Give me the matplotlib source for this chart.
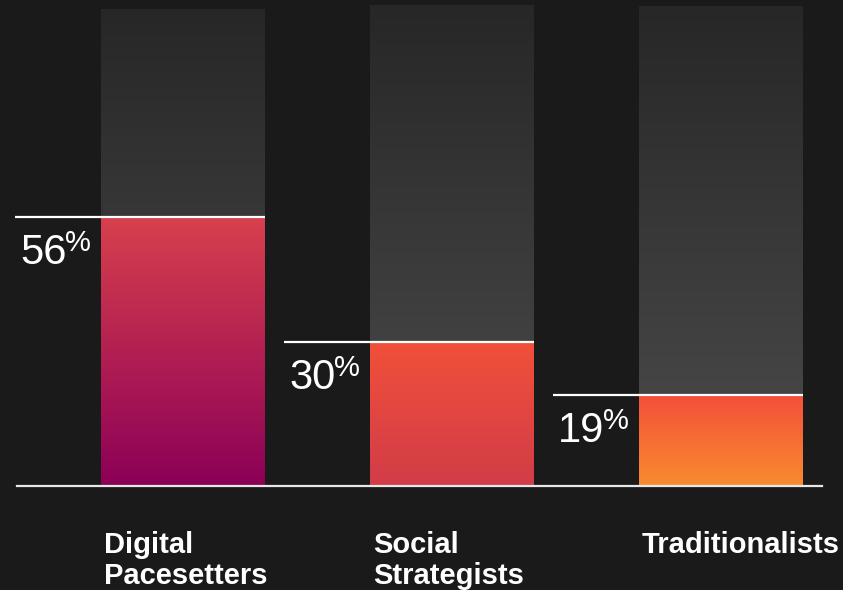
import numpy as np
import matplotlib
matplotlib.use("Agg")
import matplotlib.pyplot as plt
from matplotlib.colors import LinearSegmentedColormap

# data
categories = ["Digital\nPacesetters", "Social\nStrategists", "Traditionalists"]
values = [56, 30, 19]
full = [99.2, 100.2, 100]
# gradient colours (top, bottom) of each value bar
bar_colors = [("#d8404d", "#8c0057"), ("#f1503a", "#d23c48"), ("#f34f3a", "#f98b2f")]
bg_colors = ("#272727", "#4c4c4c")

W, H = 843, 590
fig = plt.figure(figsize=(W / 100, H / 100), dpi=100, facecolor="#1a1a1a")
ax = fig.add_axes([0, 0, 1, 1])
ax.set_facecolor("#1a1a1a")
ax.set_axis_off()

step = 269.0       # pixels between bar centres
x0px = 183.0       # first bar centre, pixels
ypx0 = 486.0       # baseline pixel
ppu = 4.8          # pixels per percent
ax.set_xlim(-x0px / step, (W - x0px) / step)
ax.set_ylim(-(H - ypx0) / ppu, ypx0 / ppu)

bw = 164 / step
grad = np.linspace(0, 1, 256).reshape(-1, 1)

for i, (v, f) in enumerate(zip(values, full)):
    left, right = i - bw / 2, i + bw / 2
    # background (100%) bar with gray gradient, top -> bottom
    cm_bg = LinearSegmentedColormap.from_list("bg", [bg_colors[1], bg_colors[0]])
    ax.imshow(grad, cmap=cm_bg, aspect="auto", origin="lower",
              extent=(left, right, 0, f), zorder=1)
    # value bar
    top, bot = bar_colors[i]
    cm = LinearSegmentedColormap.from_list("b%d" % i, [bot, top])
    ax.imshow(grad, cmap=cm, aspect="auto", origin="lower",
              extent=(left, right, 0, v), zorder=2)
    # white marker line
    ax.plot([left - 86 / step, right], [v, v], color="white", lw=1.6,
            solid_capstyle="butt", zorder=3)
    # percent label
    t = ax.text(left - 81 / step, v - 16 / ppu, str(v), color="white",
                fontsize=30, family="Liberation Sans", ha="left", va="top",
                zorder=4)
    ax.annotate("%", xy=(1, 1), xycoords=t, xytext=(-1, 3),
                textcoords="offset points", color="white", fontsize=21,
                family="Liberation Sans", ha="left", va="top")
    # category label
    ax.text(left + 3 / step, -(531 - ypx0) / ppu, categories[i], color="white",
            fontsize=21, fontweight="bold", family="Liberation Sans",
            ha="left", va="top", linespacing=1.12, zorder=4)

# baseline
ax.plot([(17 - x0px) / step, (822 - x0px) / step], [0, 0], color="#e8e8e8",
        lw=1.6, zorder=3)

fig.savefig("out.png", dpi=100, facecolor=fig.get_facecolor())
